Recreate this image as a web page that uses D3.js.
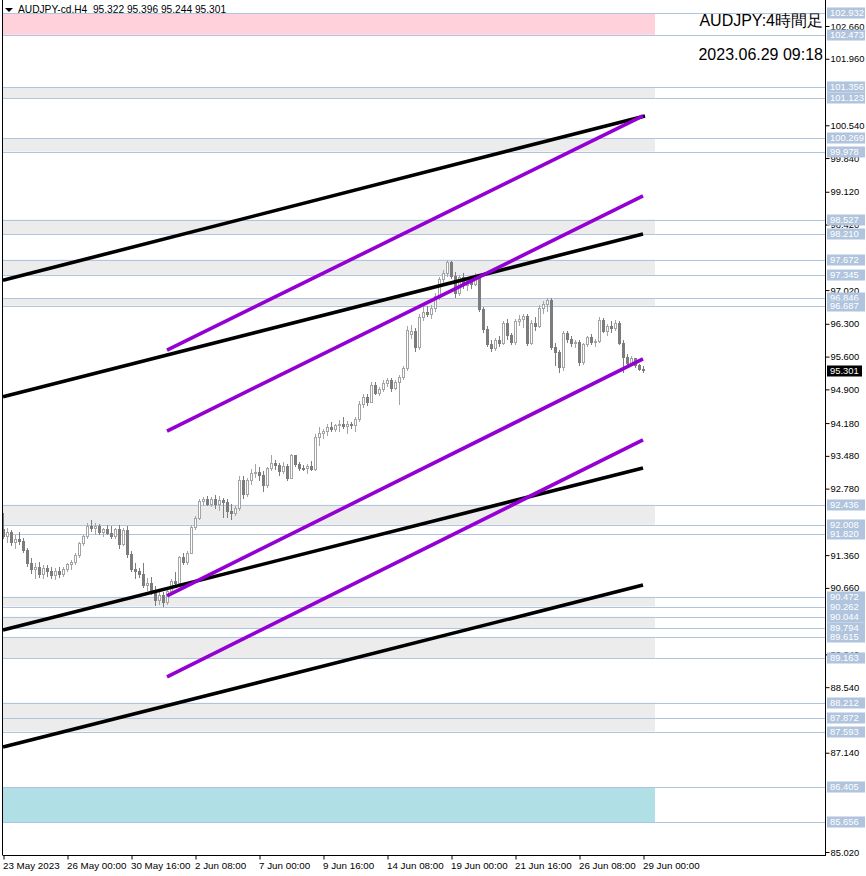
<!DOCTYPE html>
<html><head><meta charset="utf-8">
<script src="https://cdn.jsdelivr.net/npm/d3@7"></script>
<style>body{margin:0;background:#fff}svg{display:block}text{font-family:"Liberation Sans",Arial,sans-serif}</style>
</head><body>
<script>
// ---- data (4H bars, index 0 = 23 May 2023) ----
const openP = [91.90,91.75,91.85,91.62,91.70,91.66,91.45,91.18,91.05,91.10,
90.95,91.08,91.00,90.92,91.02,90.95,91.05,91.15,91.20,91.35,
91.60,91.75,91.98,91.92,91.98,91.85,91.90,91.82,91.75,91.90,
91.58,91.88,91.38,91.05,91.00,90.95,90.72,90.75,90.55,90.40,
90.50,90.35,90.58,90.80,90.75,91.30,91.20,91.40,91.95,92.15,
92.50,92.55,92.45,92.55,92.45,92.52,92.48,92.30,92.25,92.35,
92.95,92.65,92.95,93.10,93.12,93.05,92.85,93.20,93.32,93.28,
93.15,93.25,93.00,93.48,93.30,93.22,93.20,93.25,93.18,93.88,
93.95,94.00,94.08,94.05,94.12,94.15,94.10,94.15,94.12,94.25,
94.58,94.72,94.62,94.98,94.82,94.90,95.02,95.10,94.92,95.05,
95.15,95.35,96.08,96.14,95.80,96.43,96.55,96.50,96.62,96.88,
97.25,97.38,97.60,97.30,96.95,97.28,97.12,97.20,97.15,97.33,
96.60,96.17,95.85,95.78,95.95,95.88,96.30,96.05,95.90,96.35,
96.40,96.45,95.89,96.30,96.25,96.62,96.72,96.80,95.80,95.68,
95.36,96.10,95.96,95.88,95.90,95.48,95.85,96.00,95.90,95.92,
96.38,96.13,96.25,96.20,96.30,95.89,95.59,95.45,95.55,95.40,
95.322];
const highP = [92.25,91.95,91.90,91.80,91.85,91.72,91.52,91.30,91.20,91.22,
91.15,91.15,91.10,91.08,91.10,91.10,91.20,91.25,91.40,91.65,
91.80,92.05,92.10,92.05,92.02,91.95,92.00,91.98,91.95,92.00,
91.95,91.98,91.45,91.20,91.08,91.20,90.88,90.90,90.70,90.60,
90.58,90.62,90.85,91.00,91.35,91.40,91.45,92.00,92.20,92.55,
92.60,92.62,92.60,92.65,92.62,92.58,92.55,92.45,92.40,93.05,
93.05,93.00,93.20,93.30,93.25,93.15,93.25,93.50,93.40,93.32,
93.35,93.30,93.52,93.50,93.35,93.28,93.30,93.38,93.95,94.10,
94.05,94.15,94.20,94.15,94.25,94.30,94.22,94.20,94.30,94.65,
94.80,94.80,95.05,95.05,94.95,95.10,95.15,95.15,95.10,95.20,
95.40,96.25,96.28,96.20,96.50,96.65,96.68,96.70,96.95,97.30,
97.45,97.66,97.64,97.40,97.35,97.38,97.30,97.32,97.38,97.36,
96.65,96.25,95.95,96.00,96.05,96.35,96.40,96.10,96.40,96.48,
96.50,96.50,96.38,96.45,96.70,96.78,96.86,96.85,95.90,95.75,
96.15,96.15,96.05,95.95,95.95,95.90,96.05,96.08,95.98,96.45,
96.42,96.30,96.35,96.38,96.35,95.95,95.65,95.62,95.58,95.45,
95.396];
const lowP = [91.70,91.62,91.55,91.50,91.58,91.40,91.10,90.95,90.85,90.88,
90.85,90.90,90.85,90.82,90.88,90.90,91.00,91.05,91.15,91.30,
91.55,91.70,91.85,91.80,91.78,91.75,91.78,91.70,91.70,91.50,
91.55,91.30,91.00,90.85,90.88,90.65,90.60,90.50,90.28,90.30,
90.26,90.30,90.50,90.70,90.72,91.15,91.15,91.38,91.90,92.10,
92.40,92.40,92.38,92.35,92.30,92.15,92.15,92.12,92.20,92.30,
92.55,92.60,92.85,93.00,92.95,92.70,92.80,93.15,93.18,93.05,
93.10,92.95,92.98,93.25,93.15,93.15,93.10,93.15,93.15,93.70,
93.85,93.90,94.00,93.98,94.00,94.05,93.95,94.05,94.00,94.20,
94.50,94.55,94.60,94.78,94.75,94.85,94.95,94.85,94.88,94.56,
95.10,95.30,95.98,95.70,95.75,96.35,96.45,96.40,96.55,96.80,
97.10,97.30,97.25,96.85,96.90,97.05,97.00,97.05,97.10,96.55,
96.10,95.80,95.70,95.72,95.80,95.85,95.95,95.85,95.85,96.25,
96.20,95.82,95.85,96.15,96.20,96.50,96.55,95.75,95.40,95.25,
95.30,95.90,95.80,95.78,95.40,95.42,95.80,95.85,95.80,95.88,
96.10,96.05,96.10,96.15,95.85,95.25,95.40,95.40,95.35,95.30,
95.244];
const closeP = [91.75,91.85,91.62,91.70,91.66,91.45,91.18,91.05,91.10,90.95,
91.08,91.00,90.92,91.02,90.95,91.05,91.15,91.20,91.35,91.60,
91.75,91.98,91.92,91.98,91.85,91.90,91.82,91.75,91.90,91.58,
91.88,91.38,91.05,91.00,90.95,90.72,90.75,90.55,90.40,90.50,
90.35,90.58,90.80,90.75,91.30,91.20,91.40,91.95,92.15,92.50,
92.55,92.45,92.55,92.45,92.52,92.48,92.30,92.25,92.35,92.95,
92.65,92.95,93.10,93.12,93.05,92.85,93.20,93.32,93.28,93.15,
93.25,93.00,93.48,93.30,93.22,93.20,93.25,93.18,93.88,93.95,
94.00,94.08,94.05,94.12,94.15,94.10,94.15,94.12,94.25,94.58,
94.72,94.62,94.98,94.82,94.90,95.02,95.10,94.92,95.05,95.15,
95.35,96.15,96.14,95.80,96.43,96.55,96.50,96.62,96.88,97.25,
97.38,97.60,97.30,96.95,97.28,97.12,97.20,97.15,97.33,96.60,
96.17,95.85,95.78,95.95,95.88,96.30,96.05,95.90,96.35,96.40,
96.45,95.89,96.30,96.25,96.62,96.72,96.80,95.80,95.68,95.36,
96.10,95.96,95.88,95.90,95.48,95.85,96.00,95.90,95.92,96.38,
96.13,96.25,96.20,96.30,95.89,95.59,95.45,95.55,95.40,95.322,
95.301];

// time axis labels (bar index -> label)
const timeTickIdx = [0,16,32,48,64,80,96,112,128,144,160];
const timeTickLabels = ["23 May 2023","26 May 00:00","30 May 16:00","2 Jun 08:00","7 Jun 00:00",
  "9 Jun 16:00","14 Jun 08:00","19 Jun 00:00","21 Jun 16:00","26 Jun 08:00","29 Jun 00:00"];

// price scale labels (those fully hidden behind level labels are omitted)
const priceTicks = [85.020,87.140,88.540,89.240,90.660,91.360,
  92.780,93.480,94.180,94.900,95.600,96.300,97.020,98.420,99.120,99.840,100.540,101.960,102.660];

// horizontal levels
const levels = [102.932,102.473,101.356,101.123,100.269,99.978,98.527,98.210,97.672,97.345,96.846,96.687,
  92.436,92.008,91.820,90.472,90.262,90.044,89.794,89.615,89.163,88.212,87.872,87.593,86.405,85.656];

// zones (rectangles)
const zoneTop    = [102.932,101.356,100.269,98.527,97.672,96.846,92.436,90.472,90.044,89.615,88.212,86.405];
const zoneBottom = [102.473,101.123,99.978,98.210,97.345,96.687,92.008,90.262,89.794,89.163,87.593,85.656];
const zoneKind   = ["pink","gray","gray","gray","gray","gray","gray","gray","gray","gray","gray","cyan"];
const zoneEndIdx = 163;

// trend lines: [startIdx, startPrice, endIdx, endPrice]
const blackLines = [[0,97.23,160.5,100.74],[0,94.74,160,98.22],[0,89.76,160,93.22],[0,87.26,160,90.72]];
const purpleLines = [[41,95.74,160,100.74],[41,94.01,160,99.03],[41,90.49,160,95.55],[41,88.76,160,93.82]];

const header = "AUDJPY-cd.H4  95.322 95.396 95.244 95.301";
const titleText = "AUDJPY:4時間足";
const dateText = "2023.06.29 09:18";
const lastPrice = 95.301;

// ---- drawing ----
const W = 866, H = 876;
const svg = d3.select("body").append("svg").attr("width", W).attr("height", H);
const x = d3.scaleLinear().domain([0, 160]).range([3, 643]);
const y = d3.scaleLinear().domain([85.02, 102.66]).range([852, 26]);
const axisX = 825, axisY = 855, leftX = 2.5;
const colors = {pink:"#ffd1da", gray:"#ececec", cyan:"#b0e0e6"};
const labelFont = 9.4;

// zones
svg.append("g").selectAll("rect").data(zoneTop).join("rect")
  .attr("x", 3).attr("width", (d,i) => x(zoneEndIdx) - 3)
  .attr("y", d => y(d)).attr("height", (d,i) => y(zoneBottom[i]) - y(d))
  .attr("fill", (d,i) => colors[zoneKind[i]]);

// level lines
svg.append("g").selectAll("line").data(levels).join("line")
  .attr("x1", 3).attr("x2", axisX)
  .attr("y1", d => Math.round(y(d)) + 0.5).attr("y2", d => Math.round(y(d)) + 0.5)
  .attr("stroke", "#b0c4de").attr("stroke-width", 1);

// candles
const idx = d3.range(openP.length);
const cg = svg.append("g").attr("shape-rendering", "crispEdges");
cg.selectAll("line").data(idx).join("line")
  .attr("x1", i => Math.round(x(i)) + 0.5).attr("x2", i => Math.round(x(i)) + 0.5)
  .attr("y1", i => y(highP[i])).attr("y2", i => y(lowP[i]))
  .attr("stroke", i => closeP[i] >= openP[i] ? "#a4a4a4" : "#7c7c7c");
cg.selectAll("rect").data(idx).join("rect")
  .attr("x", i => Math.round(x(i)) - 0.5)
  .attr("width", 2)
  .attr("y", i => y(Math.max(openP[i], closeP[i])))
  .attr("height", i => Math.max(1, Math.abs(y(openP[i]) - y(closeP[i]))))
  .attr("fill", i => closeP[i] >= openP[i] ? "#ffffff" : "#7c7c7c")
  .attr("stroke", i => closeP[i] >= openP[i] ? "#a4a4a4" : "#7c7c7c");

// trend lines
svg.append("g").selectAll("line").data(blackLines).join("line")
  .attr("x1", d => x(d[0])).attr("y1", d => y(d[1]))
  .attr("x2", d => x(d[2])).attr("y2", d => y(d[3]))
  .attr("stroke", "#000").attr("stroke-width", 3.6);
svg.append("g").selectAll("line").data(purpleLines).join("line")
  .attr("x1", d => x(d[0])).attr("y1", d => y(d[1]))
  .attr("x2", d => x(d[2])).attr("y2", d => y(d[3]))
  .attr("stroke", "#9400d3").attr("stroke-width", 3.6);

// frame
svg.append("line").attr("x1", leftX).attr("x2", leftX).attr("y1", 0).attr("y2", axisY).attr("stroke", "#000");
svg.append("line").attr("x1", axisX + 0.5).attr("x2", axisX + 0.5).attr("y1", 0).attr("y2", axisY).attr("stroke", "#000");
svg.append("line").attr("x1", leftX).attr("x2", axisX + 1).attr("y1", axisY + 0.5).attr("y2", axisY + 0.5).attr("stroke", "#000");

// price axis
const yAxis = d3.axisRight(y).tickValues(priceTicks).tickSize(4).tickPadding(1).tickFormat(d3.format(".3f"));
const ya = svg.append("g").attr("transform", `translate(${axisX + 0.5},0)`).call(yAxis);
ya.select(".domain").remove();
ya.selectAll("text").attr("font-size", labelFont).attr("font-family", "Liberation Sans, Arial, sans-serif").attr("fill", "#000");
ya.selectAll("line").attr("stroke", "#000");

// time axis
const xAxis = d3.axisBottom(x).tickValues(timeTickIdx).tickSize(4).tickPadding(3)
  .tickFormat((d, i) => timeTickLabels[i]);
const xa = svg.append("g").attr("transform", `translate(0.5,${axisY + 0.5})`).call(xAxis);
xa.select(".domain").remove();
xa.selectAll("text").attr("text-anchor", "start").attr("dx", -1).attr("font-size", 9.8)
  .attr("font-family", "Liberation Sans, Arial, sans-serif").attr("fill", "#000");
xa.selectAll("line").attr("stroke", "#000");

// level labels
const lg = svg.append("g");
levels.forEach(v => {
  const yy = Math.round(y(v));
  lg.append("rect").attr("x", 827).attr("y", yy - 5.5).attr("width", 38).attr("height", 11).attr("fill", "#b0c4de");
  lg.append("text").attr("x", 830).attr("y", yy).attr("dy", "0.35em").attr("font-size", labelFont)
    .attr("fill", "#fff").text(d3.format(".3f")(v));
});
// last price label
{
  const yy = Math.round(y(lastPrice));
  svg.append("rect").attr("x", 827).attr("y", yy - 5.5).attr("width", 35).attr("height", 11).attr("fill", "#000");
  svg.append("text").attr("x", 830).attr("y", yy).attr("dy", "0.35em").attr("font-size", labelFont)
    .attr("fill", "#fff").text(d3.format(".3f")(lastPrice));
}

// header
svg.append("path").attr("d", "M5,8 L13,8 L9,12 Z").attr("fill", "#000");
svg.append("text").attr("x", 18).attr("y", 12.5).attr("font-size", 10.2).attr("fill", "#000")
  .attr("xml:space", "preserve").style("white-space", "pre").text(header);

// title
svg.append("text").attr("x", 823).attr("y", 26).attr("text-anchor", "end").attr("font-size", 16)
  .attr("font-family", "Liberation Sans, 'Noto Sans CJK JP', sans-serif").attr("fill", "#000").text(titleText);
svg.append("text").attr("x", 823).attr("y", 60).attr("text-anchor", "end").attr("font-size", 16)
  .attr("fill", "#000").text(dateText);
</script>
</body></html>
